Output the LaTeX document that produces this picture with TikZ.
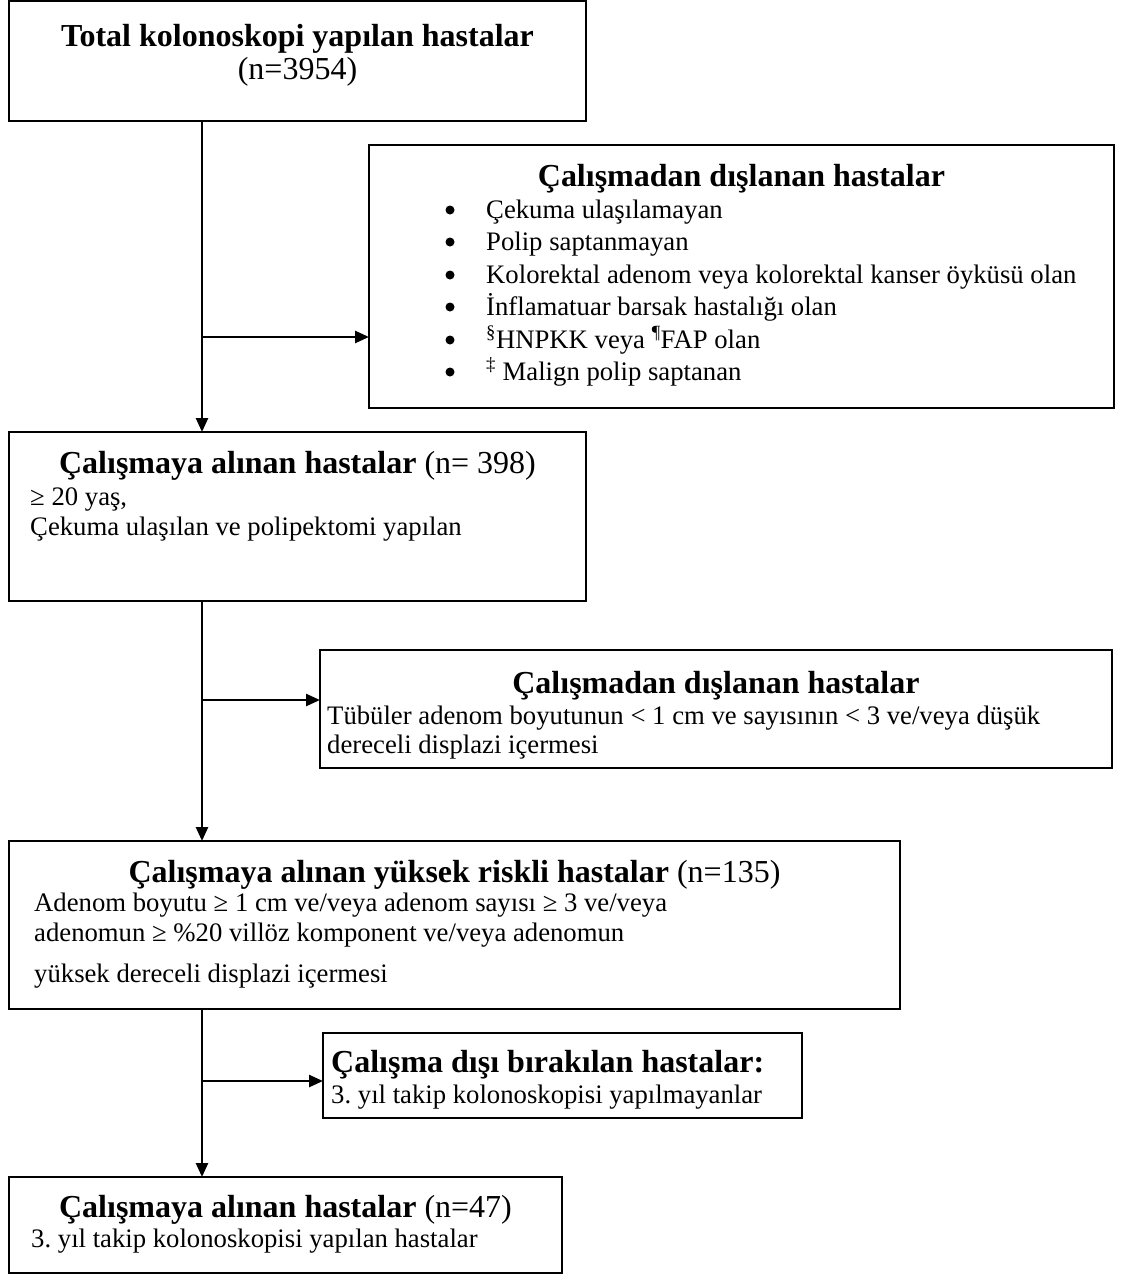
\documentclass[tikz,border=0pt]{standalone}
\usepackage{fontspec}
\setmainfont{Liberation Serif}
\usetikzlibrary{arrows.meta}
\newcommand\bodyf{\fontsize{26.7}{30}\selectfont\frenchspacing}
\newcommand\titlef{\fontsize{32}{36}\selectfont\bfseries\frenchspacing}
\newcommand\titlen{\fontsize{32}{36}\selectfont\mdseries}
\begin{document}
\begin{tikzpicture}[x=1pt,y=-1pt,
  box/.style={draw, line width=2pt, anchor=north west, inner sep=0pt, outer sep=0pt},
  txt/.style={inner sep=0pt, anchor=base west, font=\bodyf},
  ttl/.style={inner sep=0pt, anchor=base, font=\titlef},
  ttlw/.style={inner sep=0pt, anchor=base west, font=\titlef},
  bul/.style={circle, fill=black, draw=none, inner sep=0pt, minimum size=9pt},
  conn/.style={line width=2.5pt},
  arr/.style={conn, -{Triangle[length=14pt,width=12pt]}}]
\useasboundingbox (0,0) rectangle (1126,1275);
% boxes
\node[box, minimum width=577pt, minimum height=120pt] (b1) at (9,1) {};
\node[box, minimum width=745pt, minimum height=263pt] (b2) at (369,145) {};
\node[box, minimum width=577pt, minimum height=169pt] (b3) at (9,432) {};
\node[box, minimum width=792pt, minimum height=118pt] (b4) at (320,650) {};
\node[box, minimum width=891pt, minimum height=168pt] (b5) at (9,841) {};
\node[box, minimum width=479pt, minimum height=85pt] (b6) at (323,1033) {};
\node[box, minimum width=553pt, minimum height=96pt] (b7) at (9,1177) {};
% box 1
\node[ttl] (t1) at (297.5,46) {Total kolonoskopi yapılan hastalar};
\node[ttl, font=\titlen] (t1n) at (297.5,79) {(n=3954)};
% box 2
\node[ttl] (t2) at (741.5,186) {Çalışmadan dışlanan hastalar};
\node[bul] (p1) at (450,210) {};
\node[bul] (p2) at (450,242) {};
\node[bul] (p3) at (450,275) {};
\node[bul] (p4) at (450,307) {};
\node[bul] (p5) at (450,340) {};
\node[bul] (p6) at (450,372) {};
\node[txt] (l1) at (486,218) {Çekuma ulaşılamayan};
\node[txt] (l2) at (486,250) {Polip saptanmayan};
\node[txt] (l3) at (486,283) {Kolorektal adenom veya kolorektal kanser öyküsü olan};
\node[txt] (l4) at (486,315) {İnflamatuar barsak hastalığı olan};
\node[txt] (l5) at (486,348) {\textsuperscript{§}HNPKK veya \textsuperscript{¶}FAP olan};
\node[txt] (l6) at (486,380) {\textsuperscript{‡} Malign polip saptanan};
% box 3
\node[ttl] (t3) at (297.5,473) {Çalışmaya alınan hastalar {\titlen (n= 398)}};
\node[txt] (c1) at (30,505) {≥ 20 yaş,};
\node[txt] (c2) at (30,535) {Çekuma ulaşılan ve polipektomi yapılan};
% box 4
\node[ttl] (t4) at (716,693) {Çalışmadan dışlanan hastalar};
\node[txt] (d1) at (327,724) {Tübüler adenom boyutunun < 1 cm ve sayısının < 3 ve/veya düşük};
\node[txt] (d2) at (327,753) {dereceli displazi içermesi};
% box 5
\node[ttl] (t5) at (454.5,882) {Çalışmaya alınan yüksek riskli hastalar {\titlen (n=135)}};
\node[txt] (e1) at (34,911) {Adenom boyutu ≥ 1 cm ve/veya adenom sayısı ≥ 3 ve/veya};
\node[txt] (e2) at (34,941) {adenomun ≥ \%20 villöz komponent ve/veya adenomun};
\node[txt] (e3) at (34,982) {yüksek dereceli displazi içermesi};
% box 6
\node[ttlw] (t6) at (331,1072) {Çalışma dışı bırakılan hastalar:};
\node[txt] (f1) at (331,1103) {3. yıl takip kolonoskopisi yapılmayanlar};
% box 7
\node[ttl] (t7) at (285.5,1217) {Çalışmaya alınan hastalar {\titlen (n=47)}};
\node[txt] (g1) at (31,1247) {3. yıl takip kolonoskopisi yapılan hastalar};
% connectors
\coordinate (v) at (202,0);
\draw[arr] (b1.south -| v) -- (b3.north -| v);
\draw[arr] (b3.south -| v) -- (b5.north -| v);
\draw[arr] (b5.south -| v) -- (b7.north -| v);
\coordinate (j1) at (202,337);
\coordinate (j2) at (202,700);
\coordinate (j3) at (202,1081);
\draw[arr] (j1) -- (j1 -| b2.west);
\draw[arr] (j2) -- (j2 -| b4.west);
\draw[arr] (j3) -- (j3 -| b6.west);
\end{tikzpicture}
\end{document}
